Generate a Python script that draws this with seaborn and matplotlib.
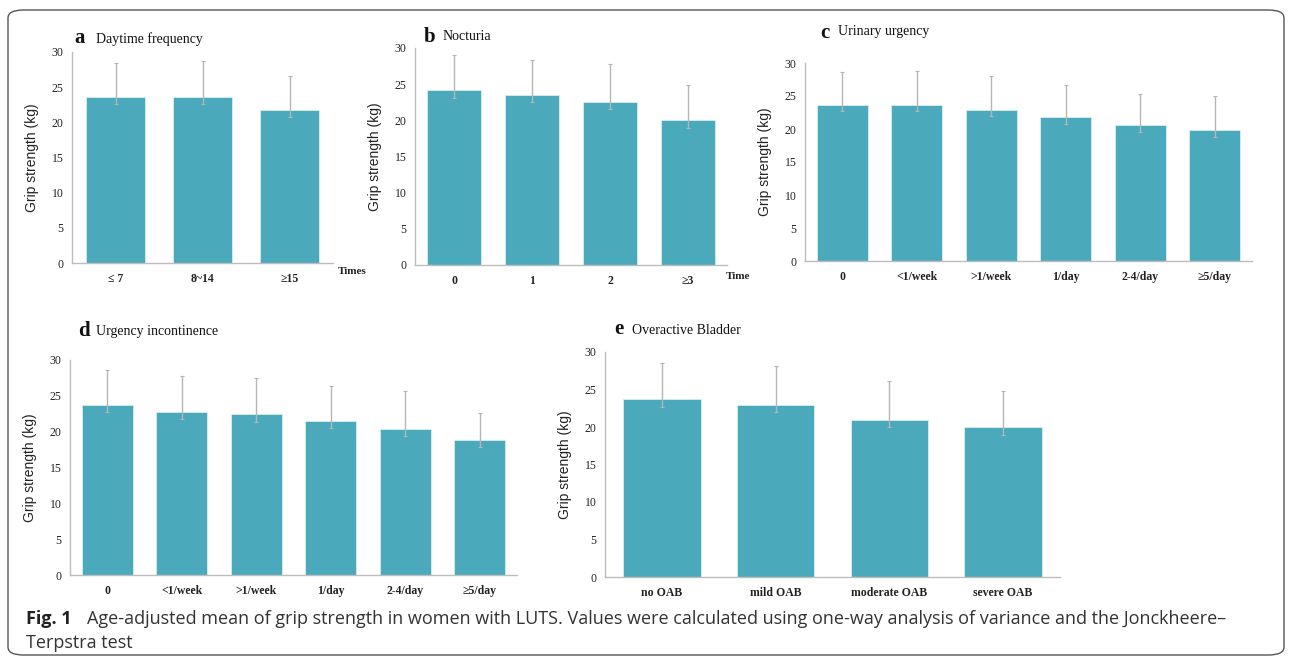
import matplotlib
matplotlib.use("Agg")
import matplotlib.pyplot as plt
import numpy as np
import pandas as pd
import seaborn as sns
from matplotlib.patches import FancyBboxPatch

W, H = 1292, 661

# panel data: categories, means, upper and lower whisker ends (kg)
A_CATS = ["≤ 7", "8~14", "≥15"]
A_MEAN = [23.6, 23.6, 21.8]
A_UP = [28.5, 28.7, 26.6]
A_LO = [22.6, 22.6, 20.8]

B_CATS = ["0", "1", "2", "≥3"]
B_MEAN = [24.2, 23.5, 22.6, 20.0]
B_UP = [29.1, 28.4, 27.8, 24.9]
B_LO = [23.1, 22.5, 21.6, 19.0]

C_CATS = ["0", "<1/week", ">1/week", "1/day", "2-4/day", "≥5/day"]
C_MEAN = [23.7, 23.7, 22.9, 21.8, 20.6, 19.8]
C_UP = [28.6, 28.8, 28.0, 26.6, 25.3, 25.0]
C_LO = [22.7, 22.7, 21.9, 20.8, 19.6, 18.8]

D_CATS = ["0", "<1/week", ">1/week", "1/day", "2-4/day", "≥5/day"]
D_MEAN = [23.7, 22.7, 22.4, 21.5, 20.4, 18.9]
D_UP = [28.6, 27.8, 27.5, 26.4, 25.7, 22.6]
D_LO = [22.7, 21.7, 21.4, 20.5, 19.4, 17.9]

E_CATS = ["no OAB", "mild OAB", "moderate OAB", "severe OAB"]
E_MEAN = [23.7, 23.0, 21.0, 20.0]
E_UP = [28.6, 28.2, 26.1, 24.8]
E_LO = [22.7, 22.0, 20.0, 19.0]

YTICKS = [0, 5, 10, 15, 20, 25, 30]
YLABEL = "Grip strength (kg)"

BAR = "#4aaabb"
ERR = "#b5b5b5"
SPINE = "#bdbdbd"
SERIF = ["Liberation Serif", "DejaVu Serif"]
SANS = ["Liberation Sans", "DejaVu Sans"]
CAPFONT = ["Open Sans", "DejaVu Sans"]


def px(x, y):
    return x / W, 1 - y / H


def axes_box(left, right, top, bottom):
    return [left / W, 1 - bottom / H, (right - left) / W, (bottom - top) / H]


def draw_panel(fig, box, cats, mean, up, lo, letter, title, lpos, tpos):
    ax = fig.add_axes(box)
    df = pd.DataFrame({"cat": cats, "val": mean})
    sns.barplot(df, x="cat", y="val", color=BAR, width=0.68, saturation=1,
                errorbar=None, ax=ax, edgecolor="#d8eef2", linewidth=0.6)
    m = np.array(mean)
    yerr = [m - np.array(lo), np.array(up) - m]
    ax.errorbar(np.arange(len(cats)), m, yerr=yerr, fmt="none", ecolor=ERR,
                elinewidth=1.0, capsize=1.5, capthick=0.8, zorder=3)
    ax.set_ylim(0, 30)
    ax.set_xlim(-0.5, len(cats) - 0.5)
    ax.set_yticks(YTICKS)
    ax.set_xlabel("")
    ax.set_ylabel(YLABEL, family=SANS, fontsize=10, color="#222222",
                  labelpad=9)
    for s in ["top", "right"]:
        ax.spines[s].set_visible(False)
    for s in ["left", "bottom"]:
        ax.spines[s].set_color(SPINE)
        ax.spines[s].set_linewidth(1.0)
    ax.tick_params(axis="y", length=3, color=SPINE, labelsize=8.5, pad=3)
    ax.tick_params(axis="x", length=0, labelsize=8.5, pad=7)
    for t in ax.get_yticklabels():
        t.set_family(SERIF)
        t.set_color("#222222")
    for t in ax.get_xticklabels():
        t.set_family(SERIF)
        t.set_fontweight("bold")
        t.set_color("#222222")
    ax.set_facecolor("white")
    fig.text(*px(*lpos), letter, family=SERIF, fontsize=15, fontweight="bold",
             va="center", ha="left", color="#111111")
    fig.text(*px(*tpos), title, family=SERIF, fontsize=10,
             va="center", ha="left", color="#111111")
    return ax


def main():
    sns.set_theme(style="white")
    fig = plt.figure(figsize=(W / 100, H / 100), dpi=100)
    fig.patch.set_facecolor("white")

    border = FancyBboxPatch((8 / W, 1 - 655 / H), 1276 / W, 645 / H,
                            boxstyle="round,pad=0,rounding_size=0.012",
                            transform=fig.transFigure, fill=False,
                            edgecolor="#555555", linewidth=1.0)
    fig.patches.append(border)

    draw_panel(fig, axes_box(72, 333, 52, 263), A_CATS, A_MEAN, A_UP, A_LO,
               "a", "Daytime frequency", (74, 38), (96, 39))
    draw_panel(fig, axes_box(415, 727, 48, 265), B_CATS, B_MEAN, B_UP, B_LO,
               "b", "Nocturia", (424, 37), (443, 36))
    draw_panel(fig, axes_box(805, 1252, 63, 261), C_CATS, C_MEAN, C_UP, C_LO,
               "c", "Urinary urgency", (820, 33), (838, 32))
    draw_panel(fig, axes_box(70, 517, 360, 575), D_CATS, D_MEAN, D_UP, D_LO,
               "d", "Urgency incontinence", (78, 331), (96, 332))
    draw_panel(fig, axes_box(605, 1060, 352, 577), E_CATS, E_MEAN, E_UP, E_LO,
               "e", "Overactive Bladder", (614, 329), (632, 330))

    fig.text(*px(338, 271), "Times", family=SERIF, fontsize=8, fontweight="bold",
             va="center", ha="left", color="#222222")
    fig.text(*px(726, 276), "Time", family=SERIF, fontsize=8, fontweight="bold",
             va="center", ha="left", color="#222222")

    cap = ("Age-adjusted mean of grip strength in women with LUTS. Values were "
           "calculated using one-way analysis of variance and the Jonckheere\u2013")
    fig.text(*px(26, 619), "Fig. 1", family=CAPFONT, fontsize=13,
             fontweight="bold", va="center", ha="left", color="#222222")
    fig.text(*px(87, 619), cap, family=CAPFONT, fontsize=13,
             va="center", ha="left", color="#333333")
    fig.text(*px(26, 643), "Terpstra test", family=CAPFONT, fontsize=13,
             va="center", ha="left", color="#333333")

    fig.savefig("out.png", dpi=100)
    plt.close(fig)


if __name__ == "__main__":
    main()
